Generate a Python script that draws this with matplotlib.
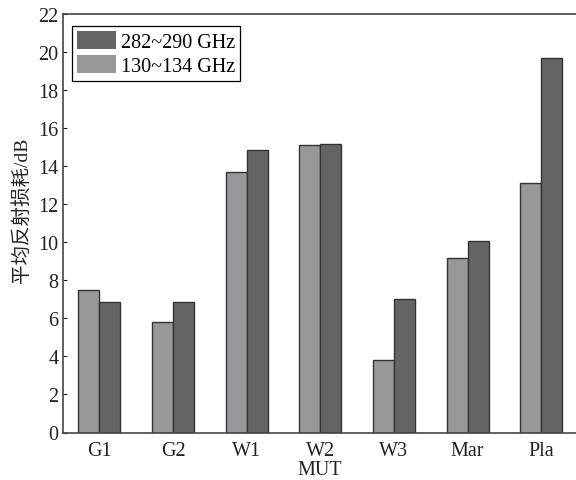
import matplotlib
matplotlib.use("Agg")
import matplotlib.pyplot as plt
import numpy as np
from matplotlib.patches import Patch

categories = ["G1", "G2", "W1", "W2", "W3", "Mar", "Pla"]
low_band = [7.47, 5.81, 13.72, 15.12, 3.83, 9.17, 13.14]   # 130~134 GHz
high_band = [6.86, 6.86, 14.87, 15.19, 7.03, 10.09, 19.67]  # 282~290 GHz
yticks = [0, 2, 4, 6, 8, 10, 12, 14, 16, 18, 20, 22]

plt.rcParams['font.family'] = ['Liberation Serif', 'Noto Sans CJK SC']
FS = 14.5

fig = plt.figure(figsize=(5.76, 4.81), dpi=100)
W, H = 576, 481
left, right, top, bottom = 62.5, 578, 15, 433.5
ax = fig.add_axes([left / W, 1 - bottom / H, (right - left) / W, (bottom - top) / H])

x = np.arange(1, len(categories) + 1)
bw = 0.285
c_light = "#98989c"
c_dark = "#646466"
ec = "#333333"
ax.bar(x - bw / 2, low_band, bw, color=c_light, edgecolor=ec, linewidth=1.0, zorder=2)
ax.bar(x + bw / 2, high_band, bw, color=c_dark, edgecolor=ec, linewidth=1.0, zorder=2)

ax.set_xlim(0.5, 7.5)
ax.set_ylim(0, 22)
ax.set_yticks(yticks)
ax.set_xticks(x)
ax.set_xticklabels(categories)
ax.tick_params(axis='y', direction='in', length=3, width=0.8, pad=3, labelsize=FS, colors='#222222')
ax.tick_params(axis='x', length=0, pad=6, labelsize=FS, colors='#222222')
for sp in ax.spines.values():
    sp.set_color('#444444')
    sp.set_linewidth(1.2)

ax.set_xlabel("MUT", fontsize=FS, labelpad=0, color='#222222')
ax.set_ylabel("平均反射损耗/dB", fontsize=FS - 0.5, color='#222222')
ax.yaxis.set_label_coords(-0.061, 0.534)

handles = [Patch(facecolor=c_dark, edgecolor='none'), Patch(facecolor=c_light, edgecolor='none')]
leg = ax.legend(handles, ["282~290 GHz", "130~134 GHz"], loc='upper left',
                bbox_to_anchor=(0.018, 0.971), fancybox=False, framealpha=1,
                edgecolor='black', handlelength=1.95, handleheight=1.0,
                handletextpad=0.25, borderpad=0.25, labelspacing=0.15, fontsize=FS,
                borderaxespad=0)
leg.get_frame().set_linewidth(0.9)

fig.savefig("out.png", dpi=100, facecolor='white')
